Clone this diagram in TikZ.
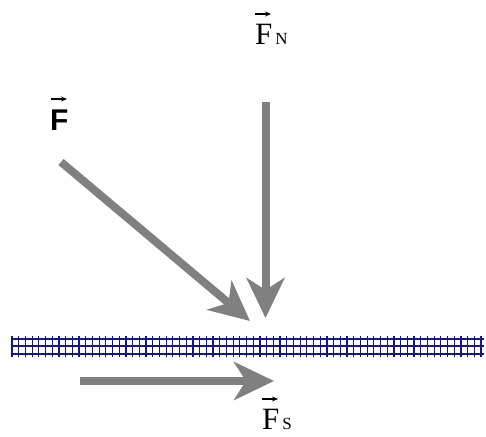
\documentclass[tikz,border=0pt]{standalone}
\usepackage{fontspec}
\setmainfont{Liberation Serif}
\newfontfamily\lsans{Liberation Sans}
\usetikzlibrary{arrows.meta}
\definecolor{arrowgray}{RGB}{128,128,128}
\definecolor{hatchblue}{RGB}{20,20,140}
\tikzset{
  force/.style={draw=arrowgray, line width=8pt, -{Stealth[length=40pt,width=38pt,inset=12pt]}},
  lbl/.style={inner sep=0pt, anchor=base west, font=\fontsize{31}{34}\selectfont},
  vecarrow/.style={draw=black, line width=1.3pt, -{Stealth[length=6pt,width=5pt]}},
  hatch/.style={draw=hatchblue, line width=1.2pt}
}
\newcommand{\subfont}{\fontsize{17}{19}\selectfont}
\begin{document}
\begin{tikzpicture}[x=1pt,y=-1pt]
\useasboundingbox (0,0) rectangle (486,436);
% surface
\foreach \yy in {339,346,354} \draw[hatch] (11,\yy) -- (484,\yy);
\foreach \i in {0,...,70} \draw[hatch] ({12+6.7*\i},336) -- ({12+6.7*\i},357);
% points
\coordinate (a1) at (265.5,102);
\coordinate (a2) at (265.5,318);
\coordinate (b1) at (61,162);
\coordinate (b2) at (250,321);
\coordinate (c1) at (80,381);
\coordinate (c2) at (274,381);
\draw[force] (a1) -- (a2);
\draw[force] (b1) -- (b2);
\draw[force] (c1) -- (c2);
% labels
\node[lbl] (fn) at (255,45) {F\kern3pt{\subfont N}};
\coordinate (fnv1) at (255,14);
\coordinate (fnv2) at (271,14);
\draw[vecarrow] (fnv1) -- (fnv2);
\node[lbl, font=\fontsize{30}{34}\selectfont\lsans\bfseries] (f) at (50,130) {F};
\coordinate (fv1) at (51,99);
\coordinate (fv2) at (67,99);
\draw[vecarrow] (fv1) -- (fv2);
\node[lbl] (fs) at (262,429) {F\kern3pt{\subfont S}};
\coordinate (fsv1) at (262,399);
\coordinate (fsv2) at (278,399);
\draw[vecarrow] (fsv1) -- (fsv2);
\end{tikzpicture}
\end{document}
